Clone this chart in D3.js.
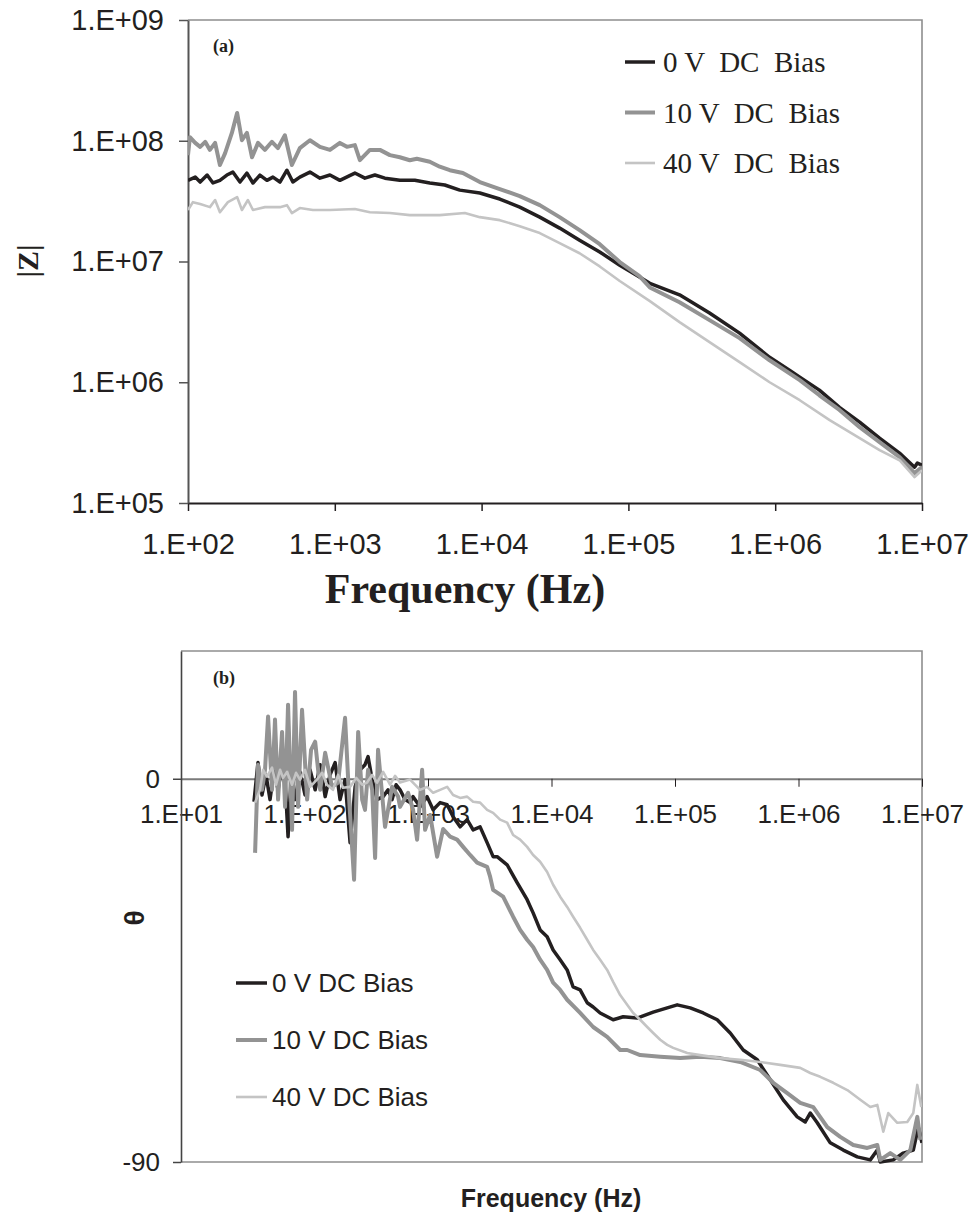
<!DOCTYPE html>
<html>
<head>
<meta charset="utf-8">
<script src="https://cdn.jsdelivr.net/npm/d3@7"></script>
<style>
  body { margin: 0; background: #fff; }
  svg { display: block; }
</style>
</head>
<body>
<svg id="chart" width="972" height="1214"></svg>
<script>
// legend / series names
const seriesNames = ['0 V  DC  Bias', '10 V  DC  Bias', '40 V  DC  Bias']
const seriesNamesB = ['0 V DC Bias', '10 V DC Bias', '40 V DC Bias']

// axis ticks
const magTicks = [1e5, 1e6, 1e7, 1e8, 1e9]
const freqTicksA = [1e2, 1e3, 1e4, 1e5, 1e6, 1e7]
const freqTicksB = [1e1, 1e2, 1e3, 1e4, 1e5, 1e6, 1e7]
const phaseTicks = [0, -90]

// (a) |Z| vs frequency, [Hz, ohm]
const zMag0V = [[100, 4.7e7], [112, 5.0e7], [121, 4.55e7], [135, 5.2e7], [148, 4.47e7], [165, 4.7e7], [184, 5.2e7], [202, 5.5e7], [226, 4.55e7], [252, 5.4e7], [277, 4.47e7], [309, 5.2e7], [345, 4.7e7], [379, 5.0e7], [423, 4.55e7], [472, 5.7e7], [518, 4.55e7], [578, 5.0e7], [677, 5.5e7], [792, 4.9e7], [927, 5.2e7], [1083, 4.7e7], [1370, 5.4e7], [1603, 4.9e7], [1876, 5.2e7], [2194, 4.9e7], [2774, 4.7e7], [3508, 4.7e7], [4437, 4.47e7], [5610, 4.3e7], [7104, 3.9e7], [9727, 3.69e7], [1.33e4, 3.29e7], [1.82e4, 2.82e7], [2.49e4, 2.33e7], [3.4e4, 1.89e7], [4.65e4, 1.5e7], [6.38e4, 1.2e7], [8.73e4, 9.3e6], [1.19e5, 7.43e6], [1.4e5, 6.6e6], [2.23e5, 5.3e6], [3.57e5, 3.74e6], [5.72e5, 2.55e6], [9.16e5, 1.61e6], [1.25e6, 1.26e6], [1.47e6, 1.1e6], [2.0e6, 8.6e5], [2.74e6, 6.2e5], [3.76e6, 4.67e5], [5.14e6, 3.44e5], [7.03e6, 2.59e5], [8.9e6, 1.98e5], [9.3e6, 2.14e5], [1e7, 2.06e5]]
const zMag10V = [[100, 7.6e7], [103, 1.07e8], [112, 9.6e7], [121, 8.9e7], [131, 9.8e7], [141, 8.4e7], [153, 9.6e7], [165, 6.3e7], [179, 7.9e7], [199, 1.16e8], [216, 1.7e8], [233, 1.01e8], [252, 1.16e8], [273, 7.3e7], [300, 9.6e7], [334, 8.4e7], [373, 9.8e7], [410, 8.7e7], [457, 1.11e8], [510, 6.3e7], [578, 8.7e7], [677, 1.01e8], [792, 8.9e7], [927, 8.4e7], [1083, 9.6e7], [1209, 8.9e7], [1370, 9.2e7], [1482, 6.9e7], [1734, 8.4e7], [2029, 8.4e7], [2373, 7.6e7], [2774, 7.3e7], [3244, 6.9e7], [3620, 7.1e7], [4437, 6.7e7], [5187, 6.1e7], [6076, 5.7e7], [7450, 5.4e7], [9727, 4.55e7], [1.33e4, 3.98e7], [1.82e4, 3.48e7], [2.49e4, 2.93e7], [3.4e4, 2.33e7], [4.65e4, 1.82e7], [6.38e4, 1.39e7], [8.73e4, 9.9e6], [1.19e5, 7.57e6], [1.4e5, 6.1e6], [2.23e5, 4.6e6], [3.57e5, 3.27e6], [5.72e5, 2.32e6], [9.16e5, 1.52e6], [1.47e6, 1.04e6], [2.0e6, 7.8e5], [2.74e6, 5.9e5], [3.76e6, 4.25e5], [5.14e6, 3.19e5], [7.03e6, 2.4e5], [8.9e6, 1.77e5], [1e7, 1.98e5]]
const zMag40V = [[100, 2.67e7], [108, 3.1e7], [121, 2.99e7], [141, 2.82e7], [153, 3.23e7], [165, 2.56e7], [187, 3.1e7], [216, 3.42e7], [233, 2.67e7], [256, 3.23e7], [277, 2.67e7], [334, 2.82e7], [423, 2.82e7], [472, 2.93e7], [510, 2.52e7], [578, 2.77e7], [709, 2.67e7], [927, 2.67e7], [1370, 2.72e7], [1734, 2.56e7], [2373, 2.52e7], [3244, 2.42e7], [5187, 2.42e7], [7690, 2.52e7], [9727, 2.33e7], [1.33e4, 2.2e7], [1.82e4, 1.96e7], [2.49e4, 1.72e7], [3.4e4, 1.42e7], [4.65e4, 1.17e7], [6.38e4, 9.1e6], [8.73e4, 6.9e6], [1.4e5, 4.7e6], [2.23e5, 3.15e6], [3.57e5, 2.15e6], [5.72e5, 1.47e6], [9.16e5, 1.0e6], [1.47e6, 7.1e5], [2.35e6, 4.85e5], [3.76e6, 3.44e5], [5.14e6, 2.74e5], [7.03e6, 2.26e5], [8.9e6, 1.64e5], [1e7, 1.87e5]]

// (b) phase vs frequency, [Hz, deg]
const phase0V = [[39, -5.4], [42, 3.8], [45.3, -3.8], [48.8, 0.9], [52.6, -4.9], [56.7, 2.1], [61.1, -2.6], [65.8, 3.3], [69.6, -0.2], [73.6, -13.6], [77.8, 0.2], [83.8, -4.9], [92, 1.6], [101, -3.8], [111, 2.1], [122, -2.6], [134, 3.3], [147, -4.2], [161, 0.9], [177, 3.8], [194, -4.9], [213, -0.2], [234, -15], [257, -1.9], [282, 2.1], [309, 3.3], [327, 5.2], [353, -0.2], [387, -4.9], [433, -4.2], [475, -2.6], [512, -4.9], [552, -1.4], [594, -2.6], [652, -4.9], [716, -5.6], [757, -4.2], [863, -6.6], [983, -4.2], [1100, -7.3], [1253, -5.6], [1428, -6.1], [1597, -8.9], [1820, -11.3], [2074, -9.6], [2319, -12], [2642, -11.3], [3011, -15], [3367, -18.3], [3628, -18.3], [4372, -20.2], [5269, -24.4], [6349, -28.4], [7100, -31.5], [8091, -35.5], [9220, -37.1], [1.031e4, -40.2], [1.175e4, -42.5], [1.339e4, -44.9], [1.497e4, -48.9], [1.706e4, -49.6], [1.945e4, -52.6], [2.175e4, -53.6], [2.477e4, -55], [3.157e4, -56.6], [3.805e4, -55.9], [4.94e4, -56.2], [6.66e4, -54.8], [8.65e4, -53.8], [1.042e5, -53.1], [1.328e5, -53.8], [1.692e5, -55], [2.197e5, -56.6], [2.8e5, -59.7], [3.568e5, -63.7], [4.634e5, -66], [5.905e5, -70.7], [7.524e5, -75.4], [9.77e5, -79.4], [1.134e6, -80.6], [1.245e6, -78.5], [1.419e6, -80.8], [1.808e6, -85.5], [2.304e6, -87.2], [2.992e6, -88.8], [3.813e6, -89.5], [4.345e6, -87.2], [4.595e6, -90], [5.854e6, -89.5], [7.055e6, -87.9], [8.5e6, -87.2], [9.33e6, -81.8], [1e7, -85.5]]
const phase10V = [[39.8, -17.4], [42, 3.3], [45.3, -2.6], [47.9, 2.1], [50.7, 14.6], [54.6, -2.6], [57.7, 13.9], [61.1, -4.9], [65.8, 11], [69.6, -6.6], [73.6, 17.4], [79.3, -12], [83.8, 20.4], [88.7, -6.6], [95.5, 16.2], [105, -4.9], [113, 6.8], [122, 8.7], [134, -2.6], [147, 6.1], [167, -1.9], [187, -0.9], [213, 14.3], [230, -4.9], [252, -23.7], [272, 11], [293, -4.9], [309, -7.3], [327, 2.1], [353, -2.6], [373, -18.6], [394, 6.8], [449, -11.3], [512, -1.9], [573, -4.2], [594, -6.6], [690, -3.3], [757, -7.3], [816, -14.3], [896, 2.1], [947, -12], [1040, -8.5], [1185, -18.3], [1326, -11.8], [1510, -13.6], [1721, -14.3], [1925, -16], [2193, -17.9], [2499, -19.7], [3011, -20.7], [3184, -23], [3367, -26.1], [4058, -27.7], [4890, -32.4], [5572, -35.5], [6349, -37.8], [7100, -39.5], [8091, -42.5], [9220, -44.9], [1.031e4, -47.9], [1.175e4, -49.6], [1.339e4, -51.9], [1.706e4, -55], [2.175e4, -58.3], [2.823e4, -60.6], [3.598e4, -63.7], [4.1e4, -63.7], [5.225e4, -64.9], [7.59e4, -65.3], [1.102e5, -65.6], [1.6e5, -65.3], [2.323e5, -65.6], [3.375e5, -66.5], [4.9e5, -68.4], [6.245e5, -71.4], [8.107e5, -73.8], [1.033e6, -76.1], [1.317e6, -77.1], [1.71e6, -81.8], [2.179e6, -84.1], [2.777e6, -86], [3.606e6, -86.7], [4.345e6, -86], [4.595e6, -89.5], [5.536e6, -87.9], [6.671e6, -89.5], [8.04e6, -87.2], [9.16e6, -79.4], [9.69e6, -84.8]]
const phase40V = [[39.8, -5.6], [43.6, -2.6], [46.2, 2.1], [49.7, 0.5], [54.6, 2.6], [58.8, -1.4], [63.4, 2.1], [67, 0.2], [72.2, 1.6], [79.3, -1.4], [85.4, 1.4], [92, -0.2], [101, 2.1], [111, -1.9], [126, -0.2], [139, 1.4], [152, -1.4], [170, -2.6], [187, 0.9], [205, -2.1], [234, -1.9], [262, 0.2], [293, -1.4], [321, -0.9], [353, 0.9], [387, -0.9], [433, 1.6], [493, -1.4], [541, 0.7], [594, -0.9], [716, -0.2], [863, -2.6], [983, -1.9], [1100, -3.3], [1253, -2.6], [1428, -1.9], [1597, -3.8], [1820, -4.5], [2074, -4.2], [2319, -5.4], [2642, -5.6], [3011, -7.3], [3367, -8], [3837, -9.6], [4372, -10.3], [4890, -13.2], [5572, -14.3], [6349, -16], [7100, -17.9], [8091, -19.5], [9220, -21.9], [1.031e4, -24.9], [1.175e4, -27.7], [1.339e4, -30.1], [1.497e4, -32.4], [1.706e4, -35], [1.945e4, -37.8], [2.175e4, -40.2], [2.477e4, -42.5], [2.823e4, -44.9], [3.157e4, -47.7], [3.598e4, -50.8], [4.1e4, -53.1], [4.585e4, -55], [5.225e4, -56.6], [5.955e4, -58.3], [6.66e4, -59.7], [7.59e4, -61.3], [8.65e4, -62.5], [9.67e4, -63.2], [1.256e5, -64.4], [1.6e5, -64.9], [2.323e5, -65.6], [3.375e5, -66], [4.9e5, -66.5], [7.115e5, -67.2], [1.033e6, -67.9], [1.245e6, -69.1], [1.501e6, -70], [1.912e6, -71.4], [2.483e6, -73.1], [3.164e6, -75.4], [3.813e6, -77.1], [4.345e6, -76.6], [4.86e6, -82.9], [5.333e6, -78.5], [6.31e6, -80.8], [7.6e6, -80.6], [8.5e6, -78.5], [9.16e6, -71.9], [9.87e6, -77.1]]

const lineStyles = [
  { color: '#231f20', width: 3.5 },
  { color: '#939393', width: 4 },
  { color: '#c4c4c4', width: 2.6 }
]

const sans = "'Liberation Sans', Arial, sans-serif"
const serif = "'Liberation Serif', 'Times New Roman', serif"
const expFmt = d => '1.E+' + String(Math.round(Math.log10(d))).padStart(2, '0')

const svg = d3.select('#chart')

function styleAxis(g, color, width, fontSize) {
  g.select('.domain').attr('stroke', color).attr('stroke-width', width)
  g.selectAll('.tick line').attr('stroke', color).attr('stroke-width', 1.5)
  g.selectAll('.tick text')
    .attr('fill', '#231f20')
    .style('font-family', sans)
    .style('font-size', fontSize + 'px')
}

function drawLines(g, series, x, y, clipId) {
  const line = d3.line().x(d => x(d[0])).y(d => y(d[1]))
  series.forEach((s, i) => {
    g.append('path')
      .datum(s)
      .attr('d', line)
      .attr('fill', 'none')
      .attr('stroke', lineStyles[i].color)
      .attr('stroke-width', lineStyles[i].width)
      .attr('stroke-linejoin', 'round')
      .attr('clip-path', `url(#${clipId})`)
  })
}

// ---------- panel (a) ----------
{
  const left = 188, right = 922, top = 20, bottom = 503
  const x = d3.scaleLog().domain([1e2, 1e7]).range([left, right])
  const y = d3.scaleLog().domain([1e5, 1e9]).range([bottom, top])

  svg.append('clipPath').attr('id', 'clipA')
    .append('rect').attr('x', left).attr('y', top - 2)
    .attr('width', right - left).attr('height', bottom - top + 4)

  // frame (top + right)
  svg.append('path')
    .attr('d', `M${left},${top}H${right}V${bottom}`)
    .attr('fill', 'none').attr('stroke', '#8e8e8e').attr('stroke-width', 1.6)

  const ax = svg.append('g').attr('transform', `translate(0,${bottom})`)
    .call(d3.axisBottom(x).tickValues(freqTicksA).tickFormat(expFmt).tickSizeInner(8).tickSizeOuter(0).tickPadding(22))
  styleAxis(ax, '#231f20', 2, 29)

  const ay = svg.append('g').attr('transform', `translate(${left},0)`)
    .call(d3.axisLeft(y).tickValues(magTicks).tickFormat(expFmt).tickSizeInner(9).tickSizeOuter(0).tickPadding(15))
  styleAxis(ay, '#555', 2, 29)

  drawLines(svg.append('g'), [zMag0V, zMag10V, zMag40V], x, y, 'clipA')

  svg.append('text').attr('x', 213).attr('y', 52)
    .style('font-family', serif).style('font-weight', 'bold').style('font-size', '18px')
    .attr('fill', '#231f20').text('(a)')

  const leg = svg.append('g')
  seriesNames.forEach((name, i) => {
    const ly = 62 + i * 50.5
    leg.append('line').attr('x1', 625).attr('x2', 655).attr('y1', ly).attr('y2', ly)
      .attr('stroke', lineStyles[i].color).attr('stroke-width', lineStyles[i].width)
    leg.append('text').attr('x', 663).attr('y', ly + 10)
      .style('font-family', serif).style('font-size', '29px').style('white-space', 'pre')
      .attr('fill', '#231f20').text(name)
  })

  svg.append('text').attr('x', 465).attr('y', 603).attr('text-anchor', 'middle')
    .style('font-family', serif).style('font-weight', 'bold').style('font-size', '42px')
    .attr('fill', '#231f20').text('Frequency (Hz)')

  svg.append('text')
    .attr('transform', 'translate(38,261) rotate(-90)')
    .attr('text-anchor', 'middle')
    .style('font-family', serif).style('font-weight', 'bold').style('font-size', '30px')
    .attr('fill', '#231f20').text('|Z|')
}

// ---------- panel (b) ----------
{
  const left = 181, right = 922, top = 651, bottom = 1162
  const x = d3.scaleLog().domain([1e1, 1e7]).range([left, right])
  const y = d3.scaleLinear().domain([-90, 30]).range([bottom, top])

  svg.append('clipPath').attr('id', 'clipB')
    .append('rect').attr('x', left).attr('y', top)
    .attr('width', right - left).attr('height', bottom - top + 2)

  svg.append('path')
    .attr('d', `M${left},${top}H${right}V${bottom}H${left}`)
    .attr('fill', 'none').attr('stroke', '#8e8e8e').attr('stroke-width', 1.6)

  const ax = svg.append('g').attr('transform', `translate(0,${y(0)})`)
    .call(d3.axisBottom(x).tickValues(freqTicksB).tickFormat(expFmt).tickSizeInner(8).tickSizeOuter(0).tickPadding(18))
  styleAxis(ax, '#7a7a7a', 2, 26)
  ax.selectAll('.tick line').attr('stroke', '#231f20').attr('stroke-width', 1)

  const ay = svg.append('g').attr('transform', `translate(${left},0)`)
    .call(d3.axisLeft(y).tickValues(phaseTicks).tickFormat(d => String(d)).tickSizeInner(8).tickSizeOuter(0).tickPadding(13))
  styleAxis(ay, '#444', 1.6, 26)

  drawLines(svg.append('g'), [phase0V, phase10V, phase40V], x, y, 'clipB')

  svg.append('text').attr('x', 213).attr('y', 684)
    .style('font-family', serif).style('font-weight', 'bold').style('font-size', '18px')
    .attr('fill', '#231f20').text('(b)')

  const leg = svg.append('g')
  seriesNamesB.forEach((name, i) => {
    const ly = 983 + i * 57
    leg.append('line').attr('x1', 236).attr('x2', 267).attr('y1', ly).attr('y2', ly)
      .attr('stroke', lineStyles[i].color).attr('stroke-width', lineStyles[i].width)
    leg.append('text').attr('x', 272).attr('y', ly + 9)
      .style('font-family', sans).style('font-size', '26px')
      .attr('fill', '#231f20').text(name)
  })

  svg.append('text').attr('x', 551).attr('y', 1207).attr('text-anchor', 'middle')
    .style('font-family', sans).style('font-weight', 'bold').style('font-size', '25px')
    .attr('fill', '#231f20').text('Frequency (Hz)')

  svg.append('text')
    .attr('transform', 'translate(144,918) rotate(-90)')
    .attr('text-anchor', 'middle')
    .style('font-family', sans).style('font-weight', 'bold').style('font-size', '28px')
    .attr('fill', '#231f20').text('θ')
}
</script>
</body>
</html>
